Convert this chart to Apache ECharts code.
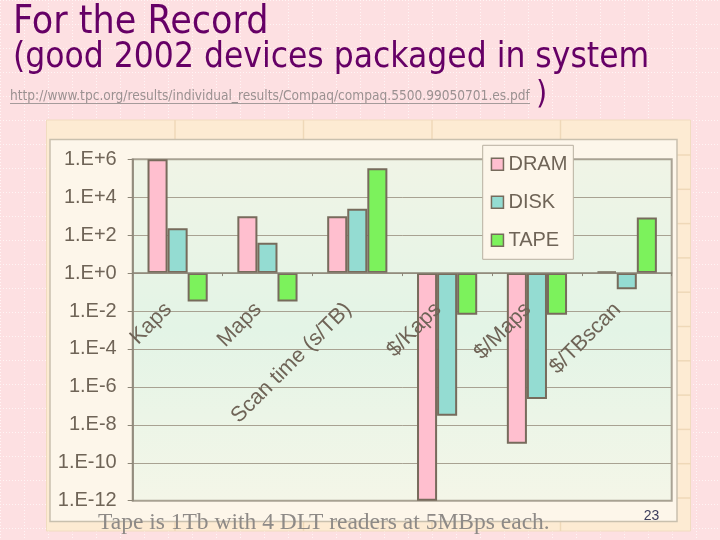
<!DOCTYPE html>
<html>
<head>
<meta charset="utf-8">
<script src="https://cdn.jsdelivr.net/npm/echarts@6/dist/echarts.min.js"></script>
<style>html,body{margin:0;padding:0;background:#fde0e2;}#c{width:720px;height:540px;}</style>
</head>
<body>
<div id="c"></div>
<script>
// ---- data ----
const categories = ['Kaps', 'Maps', 'Scan time (s/TB)', '$/Kaps', '$/Maps', '$/TBscan'];
const seriesNames = ['DRAM', 'DISK', 'TAPE'];
const dramValues = [1e6, 1e3, 1e3, 1e-12, 1e-9, 1.2];
const diskValues = [230, 40, 2500, 3e-8, 2.3e-7, 0.14];
const tapeValues = [0.032, 0.032, 3.4e5, 6.3e-3, 6.3e-3, 850];
const yExpMin = -12, yExpMax = 6, yExpStep = 2;

const titleText = 'For the Record';
const subtitleText = '(good 2002 devices packaged in system';
const urlText = 'http://www.tpc.org/results/individual_results/Compaq/compaq.5500.99050701.es.pdf';
const footerText = 'Tape is 1Tb with 4 DLT readers at 5MBps each.';
const pageText = '23';

// ---- styles ----
const colors = ['#ffbfcf', '#94dcd2', '#7cf25c'];
const labelColor = '#6f6457';
const barBorder = '#776b5c';
const axisColor = '#8c8577';

const chart = echarts.init(document.getElementById('c'), null, {renderer: 'canvas'});

const g = [];
// slide background + dotted grid
g.push({type: 'rect', z: -100, shape: {x: 0, y: 0, width: 720, height: 540}, style: {fill: '#fde0e2'}});
for (let x = 0; x <= 720; x += 24) g.push({type: 'line', z: -99, shape: {x1: x + 0.5, y1: 0, x2: x + 0.5, y2: 540}, style: {stroke: '#fff5f5', lineWidth: 1, lineDash: [1, 2]}});
for (let y = 0; y <= 540; y += 24) g.push({type: 'line', z: -99, shape: {x1: 0, y1: y + 0.5, x2: 720, y2: y + 0.5}, style: {stroke: '#fff5f5', lineWidth: 1, lineDash: [1, 2]}});
// beige sheet frame
g.push({type: 'rect', z: -90, shape: {x: 46.5, y: 120, width: 644, height: 411}, style: {fill: '#fdebd3', stroke: '#f1dcc0', lineWidth: 1}});
[175, 303.5, 432, 560.5].forEach(x => {
  g.push({type: 'line', z: -89, shape: {x1: x, y1: 120, x2: x, y2: 139}, style: {stroke: '#efd8b8', lineWidth: 1.5}});
  g.push({type: 'line', z: -89, shape: {x1: x, y1: 522, x2: x, y2: 531}, style: {stroke: '#efd8b8', lineWidth: 1.5}});
});
for (let y = 155; y < 530; y += 34.3) {
  g.push({type: 'line', z: -89, shape: {x1: 677, y1: y, x2: 690.5, y2: y}, style: {stroke: '#efd8b8', lineWidth: 1.5}});
}
// chart area
g.push({type: 'rect', z: -80, shape: {x: 50, y: 139.5, width: 627, height: 382}, style: {fill: '#fdf6ea', stroke: '#c9c0ae', lineWidth: 1.5}});
// titles
const tfont = "'DejaVu Sans Condensed', 'DejaVu Sans', sans-serif";
g.push({type: 'text', z: 10, style: {text: titleText, x: 13, y: 23, fill: '#660066', font: '39px ' + tfont, verticalAlign: 'middle'}});
g.push({type: 'text', z: 10, style: {text: subtitleText, x: 13, y: 58, fill: '#660066', font: '35px ' + tfont, verticalAlign: 'middle'}});
g.push({type: 'text', z: 10, style: {text: ')', x: 536, y: 95, fill: '#660066', font: '32px ' + tfont, verticalAlign: 'middle'}});
g.push({type: 'text', z: 10, style: {text: urlText, x: 10, y: 96, fill: '#9b9191', font: '13.6px ' + tfont, verticalAlign: 'middle'}});
g.push({type: 'line', z: 10, shape: {x1: 10, y1: 103.5, x2: 530, y2: 103.5}, style: {stroke: '#a59b9b', lineWidth: 1}});
// footer
g.push({type: 'text', z: 10, style: {text: footerText, x: 98, y: 523, fill: '#8e8a87', font: "23.5px 'Liberation Serif', serif", verticalAlign: 'middle'}});
g.push({type: 'text', z: 10, style: {text: pageText, x: 651.5, y: 516.5, fill: '#3d3d5c', font: "14px 'Liberation Sans', sans-serif", align: 'center', verticalAlign: 'middle'}});

const mk = (name, vals, i) => ({
  name: name,
  type: 'bar',
  data: vals.map(v => Math.log10(v)),
  barGap: '0%',
  barCategoryGap: '33%',
  itemStyle: {color: colors[i], borderColor: barBorder, borderWidth: 2},
  emphasis: {disabled: true},
  z: 2
});

chart.setOption({
  animation: false,
  textStyle: {fontFamily: "'Liberation Sans', Arial, sans-serif"},
  graphic: {elements: g},
  grid: {
    left: 132.7, top: 159.3, right: 48.3, bottom: 39.3,
    outerBoundsMode: 'none', containLabel: false,
    show: true,
    borderColor: '#a9a395', borderWidth: 2,
    backgroundColor: {type: 'linear', x: 0, y: 0, x2: 0, y2: 1, colorStops: [
      {offset: 0, color: '#f0f4e6'}, {offset: 0.5, color: '#e3f4e6'}, {offset: 1, color: '#f4f6e8'}]}
  },
  legend: {
    data: seriesNames,
    orient: 'vertical',
    left: 482.7, top: 145.3,
    itemWidth: 12, itemHeight: 12, itemGap: 18, itemTextGap: 12,
    padding: [9, 6, 9, 8],
    backgroundColor: '#fdf6ea',
    borderColor: '#b8b0a0', borderWidth: 1,
    icon: 'rect',
    itemStyle: {borderColor: barBorder, borderWidth: 1.5},
    textStyle: {fontSize: 20, color: labelColor, fontFamily: "'Liberation Sans', Arial, sans-serif", lineHeight: 20},
    selectedMode: false
  },
  xAxis: {
    type: 'category',
    data: categories,
    position: 'bottom',
    offset: 0,
    z: 10,
    axisLine: {onZero: false, lineStyle: {color: axisColor, width: 1.5}},
    axisTick: {show: true, length: 3, interval: 0, lineStyle: {color: axisColor}},
    axisLabel: {interval: 0, rotate: 45, fontSize: 21.5, color: labelColor, margin: 24, padding: [0, 13, 0, 0], hideOverlap: false},
    splitLine: {show: false}
  },
  yAxis: {
    type: 'value',
    min: yExpMin, max: yExpMax, interval: yExpStep,
    axisLine: {show: true, onZero: false, lineStyle: {color: axisColor, width: 1.5}},
    axisTick: {show: true, length: 5, lineStyle: {color: axisColor}},
    axisLabel: {
      fontSize: 20, color: labelColor, margin: 16,
      formatter: v => '1.E' + (v >= 0 ? '+' : '-') + Math.abs(v)
    },
    splitLine: {show: true, lineStyle: {color: '#a8a292', width: 1}}
  },
  series: [mk('DRAM', dramValues, 0), mk('DISK', diskValues, 1), mk('TAPE', tapeValues, 2)]
});

// move the category axis up to the 1.E+0 baseline (value 0 on the log10 scale)
const yZero = chart.convertToPixel({yAxisIndex: 0}, 0);
const yBottom = chart.convertToPixel({yAxisIndex: 0}, yExpMin);
chart.setOption({xAxis: {offset: yZero - yBottom}});
</script>
</body>
</html>
